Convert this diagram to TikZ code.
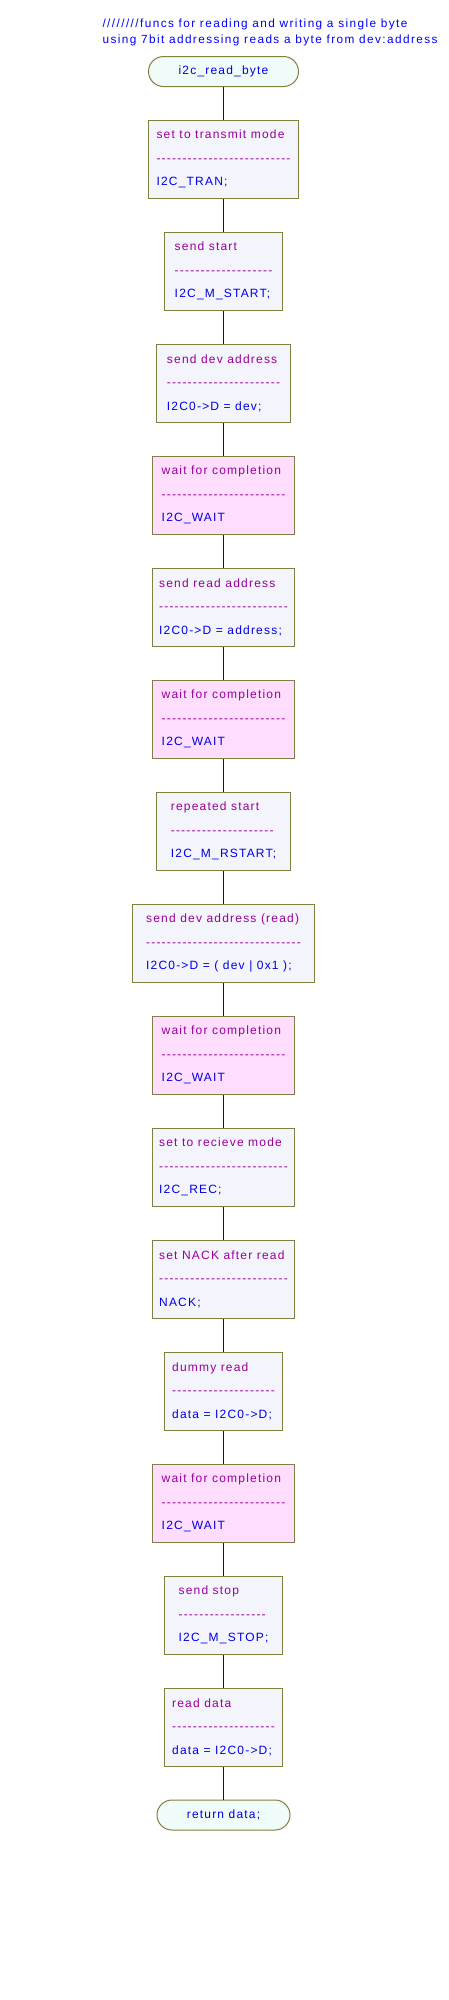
\documentclass[tikz,border=0pt]{standalone}
\usepackage{fontspec}
\newfontfamily\boxfont{Liberation Sans}[LetterSpace=10]
\newfontfamily\titlefont{Liberation Sans}[LetterSpace=12]
\definecolor{olivebd}{RGB}{128,128,64}
\definecolor{headc}{RGB}{153,0,153}
\definecolor{codec}{RGB}{0,0,230}
\definecolor{titlec}{RGB}{0,0,255}
\definecolor{linec}{RGB}{0,0,204}
\definecolor{boxfill}{RGB}{244,244,252}
\definecolor{waitfill}{RGB}{255,221,255}
\definecolor{termfill}{RGB}{240,252,250}
\ExplSyntaxOn
\cs_new:Npn \hyphrun #1 { \prg_replicate:nn {#1} {-} }
\ExplSyntaxOff
\newcommand\hdtxt[1]{\textcolor{headc}{#1}}
\newcommand\cdtxt[1]{\textcolor{codec}{#1}}
\newcommand\dsh[1]{\textcolor{headc}{\hyphrun{#1}}}
\begin{document}
\begin{tikzpicture}[x=1pt,y=-1pt,
  every node/.style={font={\boxfont\fontsize{12}{23.5}\selectfont}},
  stepbox/.style={draw=olivebd, line width=1pt, fill=boxfill, align=left,
    inner sep=0pt, minimum height=78pt},
  waitbox/.style={stepbox, fill=waitfill, minimum width=142pt},
  term/.style={draw=olivebd, line width=1pt, fill=termfill, rounded corners=15pt,
    inner sep=0pt, minimum height=30pt, text=codec},
  link/.style={draw=linec, line width=1pt}]
\useasboundingbox (0,0) rectangle (448,2000);
\fill[white] (0,0) rectangle (448,2000);
\node[anchor=west, align=left, text=titlec, font={\titlefont\fontsize{11.8}{16}\selectfont}] (title) at (99,32)
  {////////funcs for reading and writing a single byte\\using 7bit addressing reads a byte from dev:address};
\node[term, minimum width=150pt] (start) at (223.5,71.5) {i2c\_read\_byte};
\node[stepbox, minimum width=150pt] (b1) at (223.5,159)
  {\hdtxt{set to transmit mode}\\\dsh{26}\\\cdtxt{I2C\_TRAN;}};
\node[stepbox, minimum width=118pt] (b2) at (223.5,271)
  {\hdtxt{send start}\\\dsh{19}\\\cdtxt{I2C\_M\_START;}};
\node[stepbox, minimum width=134pt] (b3) at (223.5,383)
  {\hdtxt{send dev address}\\\dsh{22}\\\cdtxt{I2C0->D = dev;}};
\node[waitbox] (b4) at (223.5,495)
  {\hdtxt{wait for completion}\\\dsh{24}\\\cdtxt{I2C\_WAIT}};
\node[stepbox, minimum width=142pt] (b5) at (223.5,607)
  {\hdtxt{send read address}\\\dsh{25}\\\cdtxt{I2C0->D = address;}};
\node[waitbox] (b6) at (223.5,719)
  {\hdtxt{wait for completion}\\\dsh{24}\\\cdtxt{I2C\_WAIT}};
\node[stepbox, minimum width=134pt] (b7) at (223.5,831)
  {\hdtxt{repeated start}\\\dsh{20}\\\cdtxt{I2C\_M\_RSTART;}};
\node[stepbox, minimum width=182pt] (b8) at (223.5,943)
  {\hdtxt{send dev address (read)}\\\dsh{30}\\\cdtxt{I2C0->D = ( dev | 0x1 );}};
\node[waitbox] (b9) at (223.5,1055)
  {\hdtxt{wait for completion}\\\dsh{24}\\\cdtxt{I2C\_WAIT}};
\node[stepbox, minimum width=142pt] (b10) at (223.5,1167)
  {\hdtxt{set to recieve mode}\\\dsh{25}\\\cdtxt{I2C\_REC;}};
\node[stepbox, minimum width=142pt] (b11) at (223.5,1279)
  {\hdtxt{set NACK after read}\\\dsh{25}\\\cdtxt{NACK;}};
\node[stepbox, minimum width=118pt] (b12) at (223.5,1391)
  {\hdtxt{dummy read}\\\dsh{20}\\\cdtxt{data = I2C0->D;}};
\node[waitbox] (b13) at (223.5,1503)
  {\hdtxt{wait for completion}\\\dsh{24}\\\cdtxt{I2C\_WAIT}};
\node[stepbox, minimum width=118pt] (b14) at (223.5,1615)
  {\hdtxt{send stop}\\\dsh{17}\\\cdtxt{I2C\_M\_STOP;}};
\node[stepbox, minimum width=118pt] (b15) at (223.5,1727)
  {\hdtxt{read data}\\\dsh{20}\\\cdtxt{data = I2C0->D;}};
\node[term, minimum width=133pt] (stop) at (223.5,1815) {return data;};
\draw[link] (start) -- (b1);
\draw[link] (b1) -- (b2);
\draw[link] (b2) -- (b3);
\draw[link] (b3) -- (b4);
\draw[link] (b4) -- (b5);
\draw[link] (b5) -- (b6);
\draw[link] (b6) -- (b7);
\draw[link] (b7) -- (b8);
\draw[link] (b8) -- (b9);
\draw[link] (b9) -- (b10);
\draw[link] (b10) -- (b11);
\draw[link] (b11) -- (b12);
\draw[link] (b12) -- (b13);
\draw[link] (b13) -- (b14);
\draw[link] (b14) -- (b15);
\draw[link] (b15) -- (stop);
\end{tikzpicture}
\end{document}
